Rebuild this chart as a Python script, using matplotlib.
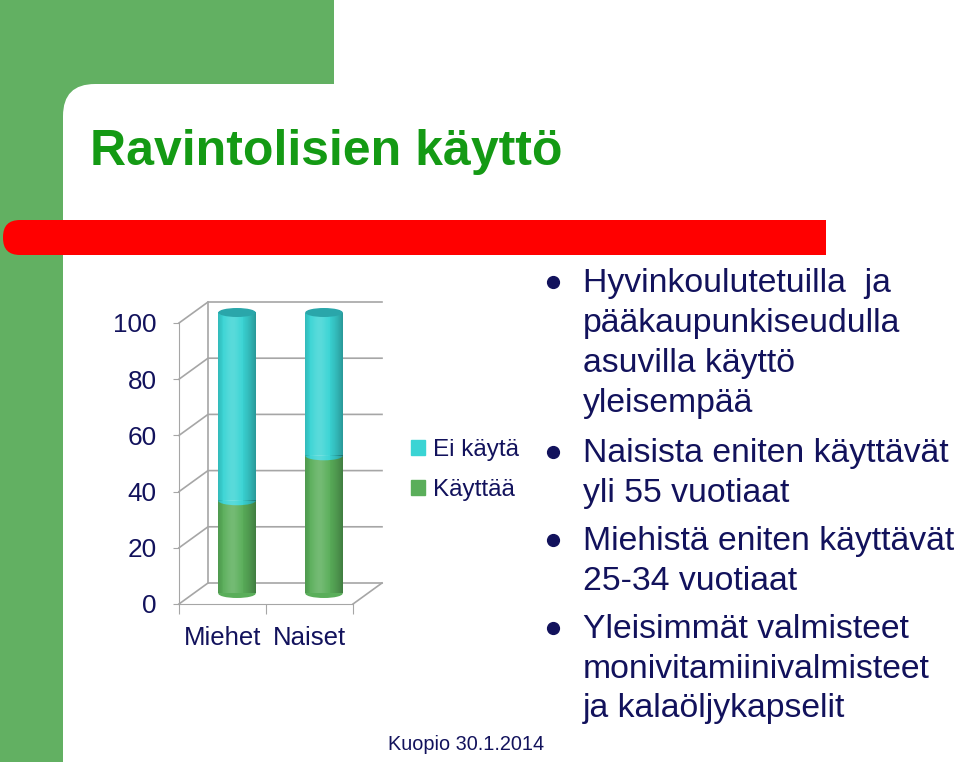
import numpy as np
import matplotlib
matplotlib.use("Agg")
import matplotlib.pyplot as plt
from matplotlib.patches import Rectangle, FancyBboxPatch, Ellipse, Patch
from matplotlib.transforms import ScaledTranslation

plt.rcParams['font.family'] = ['Liberation Sans', 'DejaVu Sans']

# chart data (percent)
groups = ['Miehet', 'Naiset']
kayttaa = [33, 49]
ei_kayta = [67, 51]
series_labels = ['Käyttää', 'Ei käytä']
yticks = [0, 20, 40, 60, 80, 100]

title = 'Ravintolisien käyttö'
bullets = [
    ['Hyvinkoulutetuilla  ja', 'pääkaupunkiseudulla', 'asuvilla käyttö', 'yleisempää'],
    ['Naisista eniten käyttävät', 'yli 55 vuotiaat'],
    ['Miehistä eniten käyttävät', '25-34 vuotiaat'],
    ['Yleisimmät valmisteet', 'monivitamiinivalmisteet', 'ja kalaöljykapselit'],
]
footer = 'Kuopio 30.1.2014'

navy = '#12125c'
green = '#5aae5a'
cyan = '#3ad4d4'
grid_c = '#a6a6a6'

W, H = 960, 762
fig = plt.figure(figsize=(W / 100, H / 100), dpi=100)

# slide background in pixel coordinates
bg = fig.add_axes([0, 0, 1, 1])
bg.set_xlim(0, W)
bg.set_ylim(H, 0)
bg.axis('off')
bg.add_patch(Rectangle((0, 0), 334, 130, color='#62b062', lw=0))
bg.add_patch(Rectangle((0, 0), 63, H, color='#62b062', lw=0))
bg.add_patch(FancyBboxPatch((63, 84), 1000, 800, boxstyle='round,pad=0,rounding_size=32',
                            fc='white', ec='none'))
# red bar
bg.add_patch(FancyBboxPatch((3, 220), 80, 35, boxstyle='round,pad=0,rounding_size=17',
                            fc='#ff0000', ec='none'))
bg.add_patch(Rectangle((40, 220), 786, 35, color='#ff0000', lw=0))

bg.text(90, 165, title, fontsize=36, fontweight='bold', color='#149a14',
        family=['Liberation Sans Narrow', 'Liberation Sans'], va='baseline')

# bullet text
baselines = [[292, 332, 372, 412], [462, 502], [550, 590], [638, 678, 717]]
for lines, ys in zip(bullets, baselines):
    bg.plot(553, ys[0] - 10, 'o', ms=8.5, color=navy)
    for line, y in zip(lines, ys):
        bg.text(583, y, line, fontsize=24.3, color=navy, va='baseline')

bg.text(388, 750, footer, fontsize=14.3, color=navy, va='baseline')

# chart: front plane of the 3d box (0 -> y 604 px, 100 -> y 323 px)
ppu = (604 - 323) / 100
y_lo, y_hi = -5, 108
ax = fig.add_axes([179 / W, 1 - (604 - y_lo * ppu) / H, (353 - 179) / W, (y_hi - y_lo) * ppu / H])
ax.set_xlim(0, 2)
ax.set_ylim(y_lo, y_hi)
ax.patch.set_alpha(0)
for s in ['top', 'right']:
    ax.spines[s].set_visible(False)
for s in ['left', 'bottom']:
    ax.spines[s].set_color(grid_c)
ax.spines['bottom'].set_position(('data', 0))
ax.spines['left'].set_bounds(0, 100)
ax.set_yticks(yticks)
ax.set_yticklabels([str(v) for v in yticks])
ax.tick_params(axis='y', length=4, color=grid_c, labelsize=18.8, labelcolor=navy, pad=12)
ax.set_xticks([0, 1, 2])
ax.set_xticklabels([])
ax.tick_params(axis='x', which='major', direction='out', length=7, color=grid_c)
ax.set_xticks([0.5, 1.5], minor=True)
ax.set_xticklabels(groups, minor=True)
ax.tick_params(axis='x', which='minor', length=0, labelsize=18.5, labelcolor=navy, pad=16)

depth = (29, 21)


def to_bg(x, v, d):
    px, py = ax.transData.transform((x, v))
    return px + depth[0] * d, H - (py + depth[1] * d)


# back wall, side and floor lines
for v in yticks:
    x0, y0 = to_bg(0, v, 0)
    x1, y1 = to_bg(0, v, 1)
    x2, y2 = to_bg(2, v, 1)
    bg.plot([x0, x1, x2], [y0, y1, y2], color=grid_c, lw=1.2)
xa, ya = to_bg(0, 0, 1)
xb, yb = to_bg(0, 100, 1)
bg.plot([xa, xb], [ya, yb], color=grid_c, lw=1.2)
xa, ya = to_bg(2, 0, 0)
xb, yb = to_bg(2, 0, 1)
bg.plot([xa, xb], [ya, yb], color=grid_c, lw=1.2)

# cylinders at half depth
bar_tr = ax.transData + ScaledTranslation(depth[0] / 200, depth[1] / 200, fig.dpi_scale_trans)
xpos = np.array([0.5, 1.5])
bw = 0.43
eh = 3.2
b1 = ax.bar(xpos, kayttaa, bw, color=green, transform=bar_tr, zorder=2)
b2 = ax.bar(xpos, ei_kayta, bw, bottom=kayttaa, color=cyan, transform=bar_tr, zorder=2)

# horizontal shading for the cylinder look
s = np.linspace(0, 1, 64)
light = 0.16 * np.exp(-((s - 0.38) / 0.2) ** 2)
dark = 0.28 * np.clip((s - 0.55) / 0.45, 0, 1) ** 1.6 + 0.12 * np.clip((0.15 - s) / 0.15, 0, 1)
rgba = np.zeros((1, 64, 4))
rgba[0, :, :3] = np.where(light[:, None] > dark[:, None], 1.0, 0.0)
rgba[0, :, 3] = np.maximum(light, dark)

for i, x in enumerate(xpos):
    ax.add_patch(Ellipse((x, 0), bw, eh, transform=bar_tr, fc=green, ec='none', zorder=2.5))
    # front edge of the upper segment, only the lower half is seen
    edge = Ellipse((x, kayttaa[i]), bw, eh, transform=bar_tr, fc=cyan, ec='none', zorder=2.6)
    ax.add_patch(edge)
    edge.set_clip_path(b1[i])
    for rect in (b1[i], b2[i]):
        ax.imshow(rgba, extent=[x - bw / 2, x + bw / 2, rect.get_y(), rect.get_y() + rect.get_height()],
                  aspect='auto', transform=bar_tr, zorder=3, interpolation='bilinear')
    ax.add_patch(Ellipse((x, kayttaa[i] + ei_kayta[i]), bw, eh, transform=bar_tr,
                         fc='#2aa6aa', ec='none', zorder=4))
ax.set_xlim(0, 2)
ax.set_ylim(y_lo, y_hi)

handles = [Patch(color=cyan), Patch(color=green)]
fig.legend(handles, [series_labels[1], series_labels[0]], loc='center left',
           bbox_to_anchor=(389 / W, 1 - 470 / H), frameon=False, fontsize=17.5,
           labelcolor=navy, handlelength=0.6, handleheight=0.6, handletextpad=0.3,
           labelspacing=0.75)

fig.savefig('out.png', dpi=100)
